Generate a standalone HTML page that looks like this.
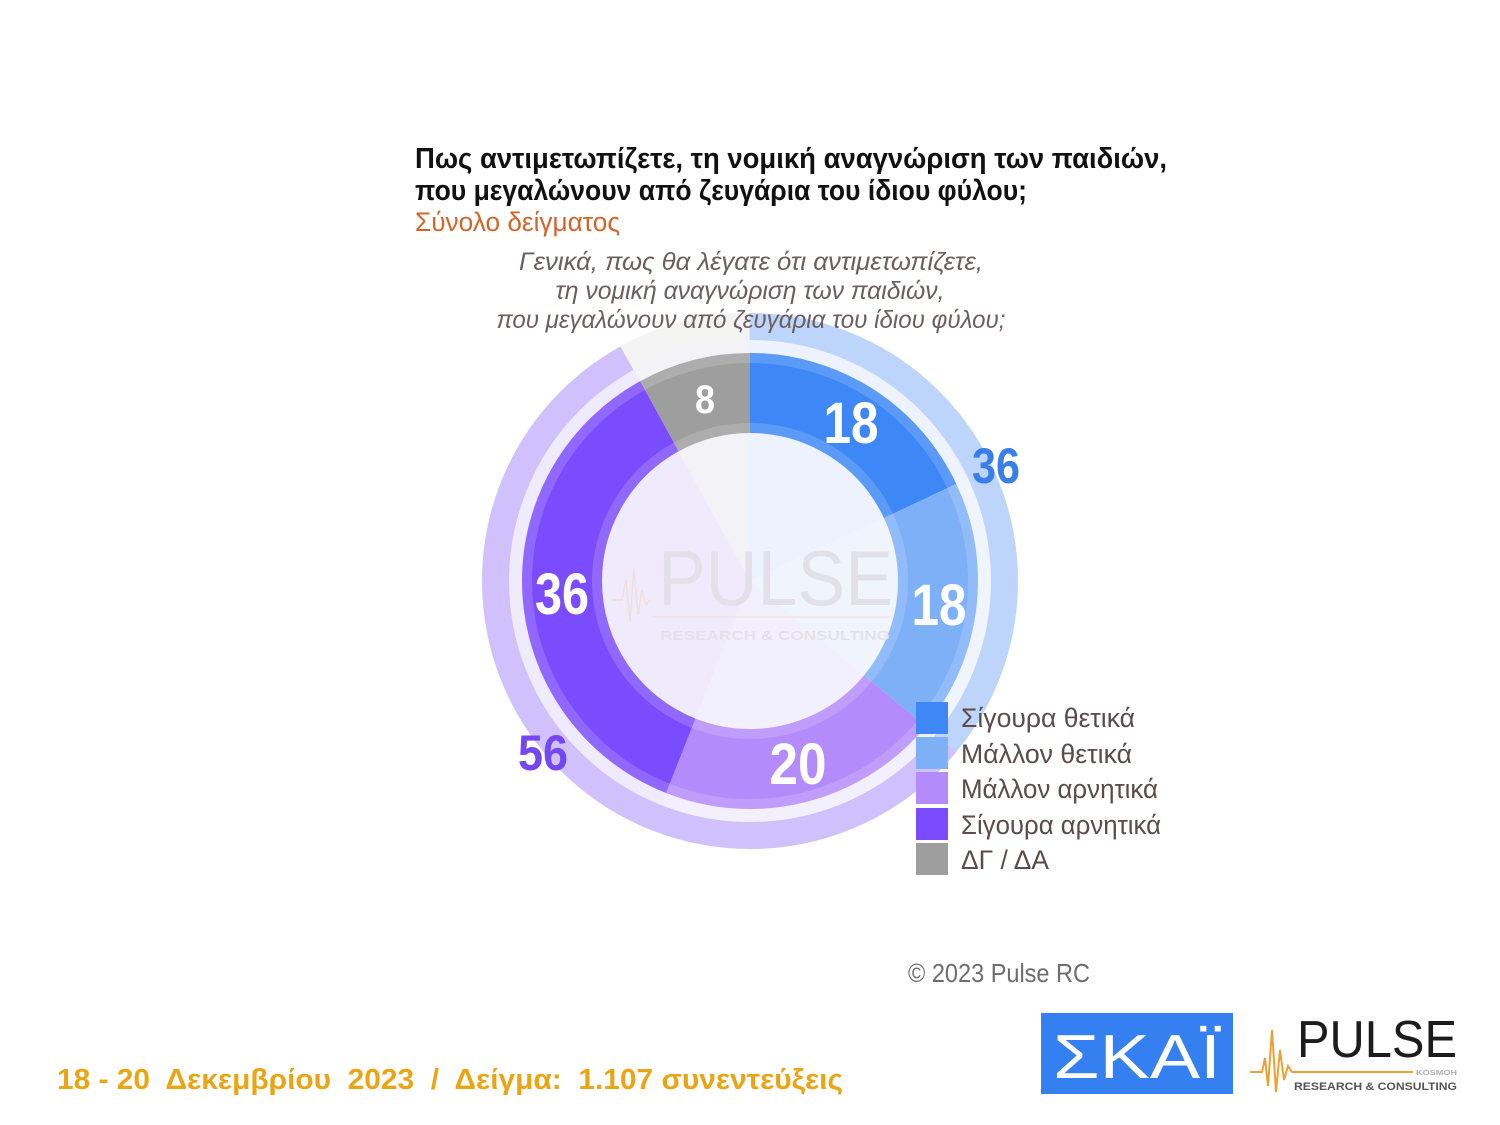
<!DOCTYPE html>
<html><head><meta charset="utf-8"><style>
html,body{margin:0;padding:0;background:#fff;}
svg{display:block}
text{font-family:"Liberation Sans","DejaVu Sans",sans-serif}
</style></head><body>
<svg width="1500" height="1125" viewBox="0 0 1500 1125" xmlns="http://www.w3.org/2000/svg">
<rect width="1500" height="1125" fill="#ffffff"/>

<g transform="rotate(-90 750 581)" fill="none">
  <!-- background pie -->
  <circle cx="750" cy="581" r="120.5" stroke="#edf2fd" stroke-width="241" pathLength="100" stroke-dasharray="18 82" stroke-dashoffset="0"/>
  <circle cx="750" cy="581" r="120.5" stroke="#eff4fd" stroke-width="241" pathLength="100" stroke-dasharray="18 82" stroke-dashoffset="-18"/>
  <circle cx="750" cy="581" r="120.5" stroke="#f3f0fd" stroke-width="241" pathLength="100" stroke-dasharray="20 80" stroke-dashoffset="-36"/>
  <circle cx="750" cy="581" r="120.5" stroke="#efebfc" stroke-width="241" pathLength="100" stroke-dasharray="36 64" stroke-dashoffset="-56"/>
  <circle cx="750" cy="581" r="120.5" stroke="#f3f2f6" stroke-width="241" pathLength="100" stroke-dasharray="8 92" stroke-dashoffset="-92"/>

  <!-- outer ring -->
  <circle cx="750" cy="581" r="254.5" stroke="#bed5fb" stroke-width="27" pathLength="100" stroke-dasharray="36 64" stroke-dashoffset="0"/>
  <circle cx="750" cy="581" r="254.5" stroke="#d0c1fc" stroke-width="27" pathLength="100" stroke-dasharray="56 44" stroke-dashoffset="-36"/>
  <circle cx="750" cy="581" r="254.5" stroke="#f3f3f3" stroke-width="27" pathLength="100" stroke-dasharray="8 92" stroke-dashoffset="-92"/>

  <!-- inner ring -->
  <circle cx="750" cy="581" r="188" stroke="#3d87f6" stroke-width="80" pathLength="100" stroke-dasharray="18 82" stroke-dashoffset="0"/>
  <circle cx="750" cy="581" r="188" stroke="#7eb0f8" stroke-width="80" pathLength="100" stroke-dasharray="18 82" stroke-dashoffset="-18"/>
  <circle cx="750" cy="581" r="188" stroke="#b48bfa" stroke-width="80" pathLength="100" stroke-dasharray="20 80" stroke-dashoffset="-36"/>
  <circle cx="750" cy="581" r="188" stroke="#7b4cfd" stroke-width="80" pathLength="100" stroke-dasharray="36 64" stroke-dashoffset="-56"/>
  <circle cx="750" cy="581" r="188" stroke="#9e9e9e" stroke-width="80" pathLength="100" stroke-dasharray="8 92" stroke-dashoffset="-92"/>
</g>
<!-- lighter edge bands -->
<circle cx="750" cy="581" r="153" fill="none" stroke="#ffffff" stroke-opacity="0.16" stroke-width="10"/>
<circle cx="750" cy="581" r="223" fill="none" stroke="#ffffff" stroke-opacity="0.16" stroke-width="10"/>

<!-- watermark -->
<polyline points="612,600 622,600 626,580 630,622 634,568 638,615 642,590 646,605 650,600" fill="none" stroke="#f1d7c0" stroke-width="1.5" opacity="0.6"/>
<text x="658" y="605" font-size="78" fill="#e2e1ea" textLength="235" lengthAdjust="spacingAndGlyphs">PULSE</text>
<line x1="652" y1="617" x2="890" y2="617" stroke="#f1dfcf" stroke-width="1.5" opacity="0.7"/>
<text x="660" y="640" font-size="13" font-weight="bold" fill="#e4e1ea" textLength="230" lengthAdjust="spacingAndGlyphs">RESEARCH &amp; CONSULTING</text>

<!-- inner labels -->
<g font-weight="bold" fill="#ffffff" text-anchor="middle">
  <text x="851" y="443" font-size="58" textLength="55" lengthAdjust="spacingAndGlyphs">18</text>
  <text x="939" y="625" font-size="58" textLength="55" lengthAdjust="spacingAndGlyphs">18</text>
  <text x="798" y="784" font-size="58" textLength="57" lengthAdjust="spacingAndGlyphs">20</text>
  <text x="562" y="614" font-size="58" textLength="54" lengthAdjust="spacingAndGlyphs">36</text>
  <text x="705" y="413" font-size="40" textLength="20" lengthAdjust="spacingAndGlyphs">8</text>
</g>
<!-- outer labels -->
<g font-weight="bold" text-anchor="middle">
  <text x="996" y="483" font-size="50" fill="#3a7ee9" textLength="48" lengthAdjust="spacingAndGlyphs">36</text>
  <text x="543" y="770" font-size="50" fill="#7447f0" textLength="50" lengthAdjust="spacingAndGlyphs">56</text>
</g>

<!-- titles -->
<text x="415" y="168" font-size="29" font-weight="bold" fill="#111111" textLength="752" lengthAdjust="spacingAndGlyphs">Πως αντιμετωπίζετε, τη νομική αναγνώριση των παιδιών,</text>
<text x="415" y="200" font-size="29" font-weight="bold" fill="#111111" textLength="612" lengthAdjust="spacingAndGlyphs">που μεγαλώνουν από ζευγάρια του ίδιου φύλου;</text>
<text x="415" y="231" font-size="27" fill="#d2652a" textLength="205" lengthAdjust="spacingAndGlyphs">Σύνολο δείγματος</text>

<g font-size="25" font-style="italic" fill="#6b5e5e" text-anchor="middle">
  <text x="751" y="270" textLength="464" lengthAdjust="spacingAndGlyphs">Γενικά, πως θα λέγατε ότι αντιμετωπίζετε,</text>
  <text x="750" y="299" textLength="389" lengthAdjust="spacingAndGlyphs">τη νομική αναγνώριση των παιδιών,</text>
  <text x="751" y="328" textLength="509" lengthAdjust="spacingAndGlyphs">που μεγαλώνουν από ζευγάρια του ίδιου φύλου;</text>
</g>

<!-- legend -->
<rect x="916" y="702" width="32" height="32" fill="#3d87f6"/>
<rect x="916" y="737" width="32" height="32" fill="#7eb0f8"/>
<rect x="916" y="772" width="32" height="32" fill="#b48bfa"/>
<rect x="916" y="808" width="32" height="32" fill="#7b4cfd"/>
<rect x="916" y="843" width="32" height="32" fill="#9e9e9e"/>
<g font-size="27" fill="#5b4b4b">
  <text x="961" y="727" textLength="174" lengthAdjust="spacingAndGlyphs">Σίγουρα θετικά</text>
  <text x="961" y="763" textLength="171" lengthAdjust="spacingAndGlyphs">Μάλλον θετικά</text>
  <text x="961" y="798" textLength="197" lengthAdjust="spacingAndGlyphs">Μάλλον αρνητικά</text>
  <text x="961" y="834" textLength="200" lengthAdjust="spacingAndGlyphs">Σίγουρα αρνητικά</text>
  <text x="961" y="869" textLength="88" lengthAdjust="spacingAndGlyphs">ΔΓ / ΔΑ</text>
</g>

<!-- copyright -->
<text x="908" y="982" font-size="26" fill="#6d6d6d" textLength="182" lengthAdjust="spacingAndGlyphs">© 2023 Pulse RC</text>

<!-- bottom text -->
<text x="57" y="1089" font-size="29" font-weight="bold" fill="#e9a514" textLength="786" lengthAdjust="spacingAndGlyphs" xml:space="preserve">18 - 20  Δεκεμβρίου  2023  /  Δείγμα:  1.107 συνεντεύξεις</text>

<!-- SKAI logo -->
<rect x="1041" y="1013" width="192" height="81" fill="#3580f0"/>
<text x="1053" y="1078" font-size="62" fill="#ffffff" textLength="168" lengthAdjust="spacingAndGlyphs">ΣΚΑΪ</text>

<!-- PULSE logo -->
<polyline points="1250,1072 1262,1072 1265,1058 1268,1086 1272,1030 1276,1092 1280,1050 1284,1080 1288,1066 1292,1072 1413,1072" fill="none" stroke="#eea032" stroke-width="2"/>
<text x="1297" y="1057" font-size="52" fill="#1c1c1c" textLength="160" lengthAdjust="spacingAndGlyphs">PULSE</text>
<text x="1416" y="1075" font-size="7" font-weight="bold" fill="#b0b0b0" textLength="41" lengthAdjust="spacingAndGlyphs">KOSMOH</text>
<text x="1294" y="1090" font-size="11" font-weight="bold" fill="#555555" textLength="163" lengthAdjust="spacingAndGlyphs">RESEARCH &amp; CONSULTING</text>
</svg>
</body></html>
